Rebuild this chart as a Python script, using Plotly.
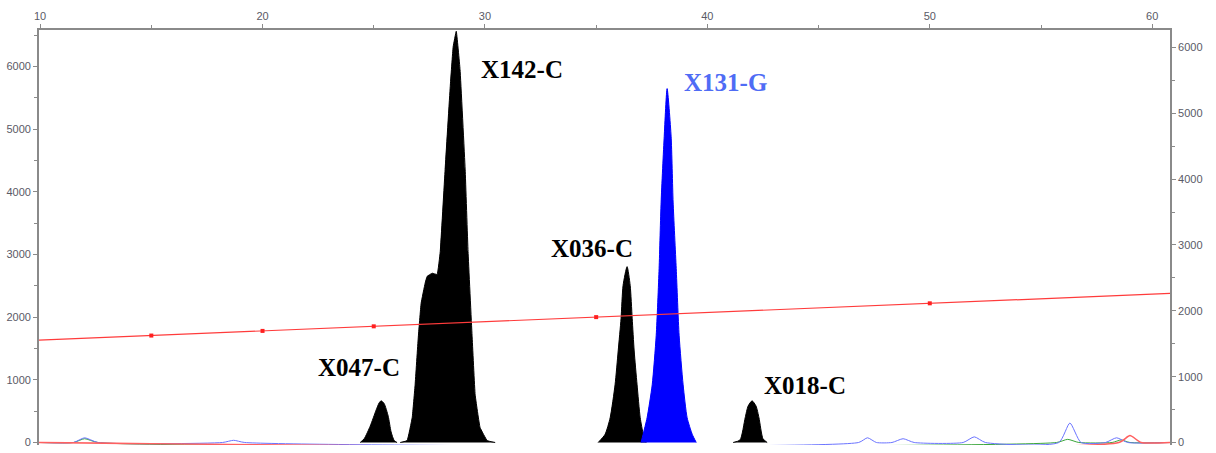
import plotly.graph_objects as go

# ---- Electropherogram data (size in bp on x, RFU on y) ----
# Filled allele peaks: outline points (x, height)
x047_x = [24.39, 24.57, 24.84, 25.11, 25.24, 25.33, 25.47, 25.65, 25.78, 25.92, 26.05]
x047_y = [0, 60, 260, 520, 630, 665, 620, 420, 170, 30, 0]

x142_x = [26.19, 26.50, 26.73, 26.86, 27.00, 27.13, 27.31, 27.40, 27.63, 27.85, 27.99,
          28.21, 28.44, 28.57, 28.71, 28.88, 29.11, 29.24, 29.42, 29.56, 29.78, 30.10, 30.46]
x142_y = [0, 30, 400, 920, 1665, 2220, 2540, 2650, 2700, 2680, 3045,
          4360, 5680, 6310, 6560, 5950, 4360, 3045, 1710, 760, 240, 30, 0]

x036_x = [35.09, 35.40, 35.63, 35.85, 35.99, 36.12, 36.21, 36.39, 36.53, 36.62, 36.71,
          36.84, 36.98, 37.12, 37.25]
x036_y = [0, 130, 395, 920, 1460, 1980, 2505, 2805, 2505, 1980, 1460, 920, 395, 130, 0]

x131_x = [37.02, 37.11, 37.29, 37.52, 37.70, 37.83, 37.92, 38.06, 38.19, 38.37, 38.46,
          38.60, 38.73, 38.91, 39.09, 39.32, 39.50]
x131_y = [0, 130, 395, 920, 1710, 2775, 3835, 4885, 5645, 4885, 3835,
          2775, 1710, 920, 395, 130, 0]

x018_x = [41.16, 41.47, 41.70, 41.83, 42.01, 42.19, 42.32, 42.50, 42.69]
x018_y = [0, 40, 395, 580, 665, 580, 395, 60, 0]

# Background dye channels near the baseline
blue_x = [10.0, 11.5, 12.0, 12.6, 18.2, 18.7, 19.2, 46.8, 47.2, 47.6, 48.3, 48.8, 49.3,
          51.5, 52.0, 52.5, 55.8, 56.3, 56.8, 57.9, 58.4, 58.9, 60.8]
blue_y = [0, 0, 75, 0, 0, 35, 0, 0, 75, 0, 0, 60, 0, 0, 90, 0, 0, 310, 0, 0, 75, 0, 0]

green_x = [10.0, 11.5, 12.0, 12.6, 55.7, 56.2, 56.7, 58.2, 58.6, 59.0, 60.8]
green_y = [0, 0, 60, 0, 0, 50, 0, 0, 40, 0, 0]

red_x = [9.95, 58.5, 59.0, 59.5, 60.8]
red_y = [0, 0, 110, 0, 0]

# Size-standard calibration line and its fitted points
std_line_x = [9.95, 60.8]
std_line_y = [1633, 2378]
std_pts_x = [15, 20, 25, 35, 50]
std_pts_y = [1706, 1780, 1853, 2000, 2220]

# Allele call labels
labels = ["X047-C", "X142-C", "X036-C", "X131-G", "X018-C"]

# Axis ticks
x_ticks = [10, 20, 30, 40, 50, 60]
y_ticks = [0, 1000, 2000, 3000, 4000, 5000, 6000]

fig = go.Figure()

def thin(x, y, color, width=1.0):
    fig.add_trace(go.Scatter(x=x, y=y, mode="lines",
                             line=dict(color=color, width=width, shape="spline", smoothing=0.6),
                             hoverinfo="skip", showlegend=False))

def peak(x, y, color, smooth=0.6):
    fig.add_trace(go.Scatter(x=x, y=y, mode="lines", fill="toself", fillcolor=color,
                             line=dict(color=color, width=1, shape="spline", smoothing=smooth),
                             hoverinfo="skip", showlegend=False))

thin(green_x, green_y, "#3aa63a")
thin(blue_x, blue_y, "#6b74ff")

peak(x047_x, x047_y, "#000000")
peak(x142_x, x142_y, "#000000", 0.25)
peak(x036_x, x036_y, "#000000")
peak(x131_x, x131_y, "#0000ff")
peak(x018_x, x018_y, "#000000")

thin(red_x, red_y, "#ff6060", 1.5)

fig.add_trace(go.Scatter(x=std_line_x, y=std_line_y, mode="lines",
                         line=dict(color="#ff3b3b", width=1.2),
                         hoverinfo="skip", showlegend=False))
fig.add_trace(go.Scatter(x=std_pts_x, y=std_pts_y, mode="markers",
                         marker=dict(color="#ff2020", size=4, symbol="square"),
                         hoverinfo="skip", showlegend=False))

# Right-hand axis carrier
fig.add_trace(go.Scatter(x=[None], y=[None], yaxis="y2", showlegend=False, hoverinfo="skip"))

label_pos = [(24.34, 1189), (31.67, 5945), (34.82, 3092), (40.80, 5740), (44.40, 904)]
label_col = ["#000000", "#000000", "#000000", "#4f6cf5", "#000000"]
for txt, (lx, ly), col in zip(labels, label_pos, label_col):
    fig.add_annotation(x=lx, y=ly, text="<b>" + txt + "</b>", showarrow=False,
                       font=dict(family="Liberation Serif", size=25, color=col),
                       xanchor="center", yanchor="middle")

axis_col = "#8a8a8a"
tick_font = dict(family="Liberation Sans", size=11, color="#5a5a66")

fig.update_layout(
    width=1216, height=453,
    margin=dict(l=39, r=46, t=30, b=5),
    paper_bgcolor="white", plot_bgcolor="white",
    font=dict(family="Liberation Serif"),
    xaxis=dict(side="top", range=[9.95, 60.8], tickvals=x_ticks,
               ticks="outside", ticklen=4, tickcolor=axis_col, tickwidth=1,
               minor=dict(dtick=5, tick0=0, ticks="outside", ticklen=3, tickcolor=axis_col),
               showline=True, linecolor=axis_col, linewidth=1.5, mirror=False,
               showgrid=False, zeroline=False, tickfont=tick_font),
    yaxis=dict(range=[-40, 6580], tickvals=y_ticks,
               ticks="outside", ticklen=4, tickcolor=axis_col,
               minor=dict(dtick=500, ticks="outside", ticklen=3, tickcolor=axis_col),
               showline=True, linecolor=axis_col, linewidth=1.8,
               showgrid=False, zeroline=False, tickfont=tick_font),
    yaxis2=dict(range=[-38, 6264], tickvals=y_ticks, overlaying="y", side="right",
                ticks="outside", ticklen=4, tickcolor=axis_col,
                minor=dict(dtick=500, ticks="outside", ticklen=3, tickcolor=axis_col),
                showline=True, linecolor=axis_col, linewidth=1.8,
                showgrid=False, zeroline=False, tickfont=tick_font),
)

fig.write_html("out.html")
